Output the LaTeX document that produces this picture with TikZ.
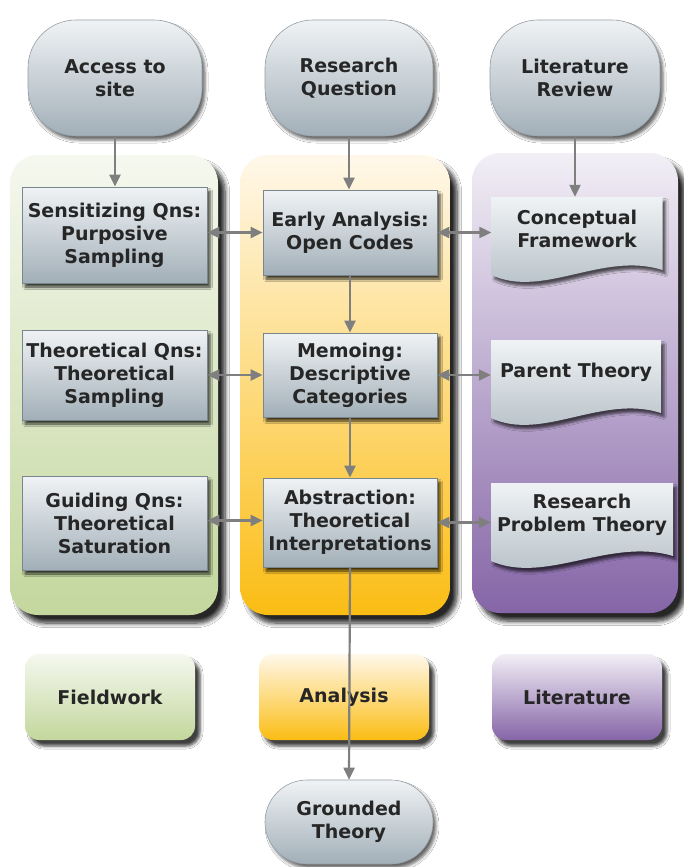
\documentclass[tikz,border=0pt]{standalone}
\usepackage{fontspec}
\setmainfont{DejaVu Sans}
\usetikzlibrary{arrows.meta,shadows.blur,calc}

\definecolor{ink}{HTML}{262626}
\definecolor{arrowgrey}{HTML}{7F7F7F}
\definecolor{boxtop}{HTML}{F0F3F5}
\definecolor{boxbot}{HTML}{A2AFB8}
\definecolor{boxedge}{HTML}{7A868E}
\definecolor{greentop}{HTML}{F5F8EF}
\definecolor{greenmid}{HTML}{E0EACE}
\definecolor{greenbot}{HTML}{C3D79D}
\definecolor{yellowtop}{HTML}{FFF8EA}
\definecolor{yellowmid}{HTML}{FEDA72}
\definecolor{yellowbot}{HTML}{FBBD14}
\definecolor{purpletop}{HTML}{F2EFF6}
\definecolor{purplemid}{HTML}{C0ADD5}
\definecolor{purplebot}{HTML}{8565A7}

\tikzset{
  label font/.style={font=\bfseries\fontsize{19}{23}\selectfont, text=ink, align=center},
  column/.style={rectangle, rounded corners=28pt, minimum height=460pt,
    blur shadow={shadow xshift=7pt, shadow yshift=-8pt, shadow blur radius=4.5pt,
      shadow blur steps=8, shadow opacity=85}},
  stepbox/.style={rectangle, label font, inner sep=0pt, draw=boxedge, line width=0.8pt,
    top color=boxtop, bottom color=boxbot,
    blur shadow={shadow xshift=3pt, shadow yshift=-4pt, shadow blur radius=2.5pt,
      shadow opacity=75}},
  terminal/.style={rectangle, label font, inner sep=0pt, rounded corners=48pt,
    draw=boxedge!80, line width=0.6pt, top color=boxtop, bottom color=boxbot,
    blur shadow={shadow xshift=3pt, shadow yshift=-4pt, shadow blur radius=3pt,
      shadow opacity=60}},
  docbox/.style={rectangle, label font, inner sep=0pt, minimum height=64pt},
  docfill/.style={top color=boxtop, bottom color=boxbot!85!white,
    blur shadow={shadow xshift=3pt, shadow yshift=-4pt, shadow blur radius=2.5pt,
      shadow opacity=65}},
  legendbox/.style={rectangle, label font, rounded corners=14pt,
    minimum width=170pt, minimum height=86pt,
    blur shadow={shadow xshift=5pt, shadow yshift=-6pt, shadow blur radius=3pt,
      shadow opacity=75}},
  tip/.tip={Triangle[length=12pt,width=11pt]},
  flow/.style={draw=arrowgrey, line width=2.2pt, -tip},
  twoway/.style={draw=arrowgrey, line width=2.2pt, tip-tip},
}

% document with a wavy bottom: #1 name, (#2,#3) centre of the text area,
% #4 width, #5 text; the text area is 64pt high
\newcommand\docnode[5]{%
  \path[docfill] ({#2-#4/2},{#3-32}) -- ({#2+#4/2},{#3-32})
    -- ({#2+#4/2},{#3+41})
    .. controls ({#2+0.15*#4},{#3+22}) and ({#2-0.2*#4},{#3+70})
    .. ({#2-#4/2},{#3+46}) -- cycle;
  \node[docbox, minimum width=#4pt] (#1) at (#2,#3) {#5};}

\begin{document}
\begin{tikzpicture}[x=1pt,y=-1pt]
  \useasboundingbox (0,0) rectangle (683,867);
  \fill[white] (0,0) rectangle (683,867);

  % the three swim lanes
  \node[column, minimum width=208pt, top color=greentop, middle color=greenmid,
    bottom color=greenbot] (fieldlane) at (114,385) {};
  \node[column, minimum width=210pt, top color=yellowtop, middle color=yellowmid,
    bottom color=yellowbot] (analysislane) at (345,385) {};
  \node[column, minimum width=206pt, top color=purpletop, middle color=purplemid,
    bottom color=purplebot] (litlane) at (575,383) {};

  % inputs
  \node[terminal, minimum width=174pt, minimum height=116pt] (access) at (115,78) {Access to\\site};
  \node[terminal, minimum width=168pt, minimum height=116pt] (rq) at (349,78) {Research\\Question};
  \node[terminal, minimum width=170pt, minimum height=116pt] (lr) at (575,78) {Literature\\Review};

  % fieldwork steps
  \node[stepbox, minimum width=185pt, minimum height=96pt] (sens) at (114.5,235) {Sensitizing Qns:\\Purposive\\Sampling};
  \node[stepbox, minimum width=185pt, minimum height=90pt] (theo) at (114.5,375) {Theoretical Qns:\\Theoretical\\Sampling};
  \node[stepbox, minimum width=185pt, minimum height=94pt] (guide) at (114.5,523) {Guiding Qns:\\Theoretical\\Saturation};

  % analysis steps
  \node[stepbox, minimum width=174pt, minimum height=85pt] (early) at (350,232.5) {Early Analysis:\\Open Codes};
  \node[stepbox, minimum width=174pt, minimum height=84pt] (memo) at (350,375) {Memoing:\\Descriptive\\Categories};
  \node[stepbox, minimum width=174pt, minimum height=89pt] (abstr) at (350,522.5) {Abstraction:\\Theoretical\\Interpretations};

  % literature documents
  \docnode{cf}{577}{229}{171}{Conceptual\\Framework}
  \docnode{pt}{576}{372}{170}{Parent Theory}
  \docnode{rpt}{582}{515}{182}{Research\\Problem Theory}

  % legend
  \node[legendbox, top color=greentop, bottom color=greenbot] (fieldwork) at (110,697) {Fieldwork};
  \node[legendbox, top color=yellowtop, bottom color=yellowbot] (analysis) at (344,697) {Analysis};
  \node[legendbox, top color=purpletop, bottom color=purplebot] (literature) at (577,697) {Literature};

  % outcome
  \node[terminal, rounded corners=42pt, minimum width=168pt, minimum height=84pt] (gt) at (349,822) {Grounded\\Theory};

  % connectors
  \draw[flow] (access.south) -- (access.south |- sens.north);
  \draw[flow] (rq.south) -- (rq.south |- early.north);
  \draw[flow] (lr.south) -- (lr.south |- cf.north);
  \draw[flow] (early.south) -- (memo.north);
  \draw[flow] (memo.south) -- (abstr.north);
  \draw[flow] (abstr.south) -- (gt.north);

  \draw[twoway] (sens.east |- early.west) -- (early.west);
  \draw[twoway] (early.east) -- (early.east -| cf.west);
  \draw[twoway] (theo.east |- memo.west) -- (memo.west);
  \draw[twoway] (memo.east) -- (memo.east -| pt.west);
  \draw[twoway] ([yshift=2pt]guide.east |- abstr.west) -- ([yshift=2pt]abstr.west);
  \draw[twoway] (abstr.east) -- (abstr.east -| rpt.west);
\end{tikzpicture}
\end{document}
